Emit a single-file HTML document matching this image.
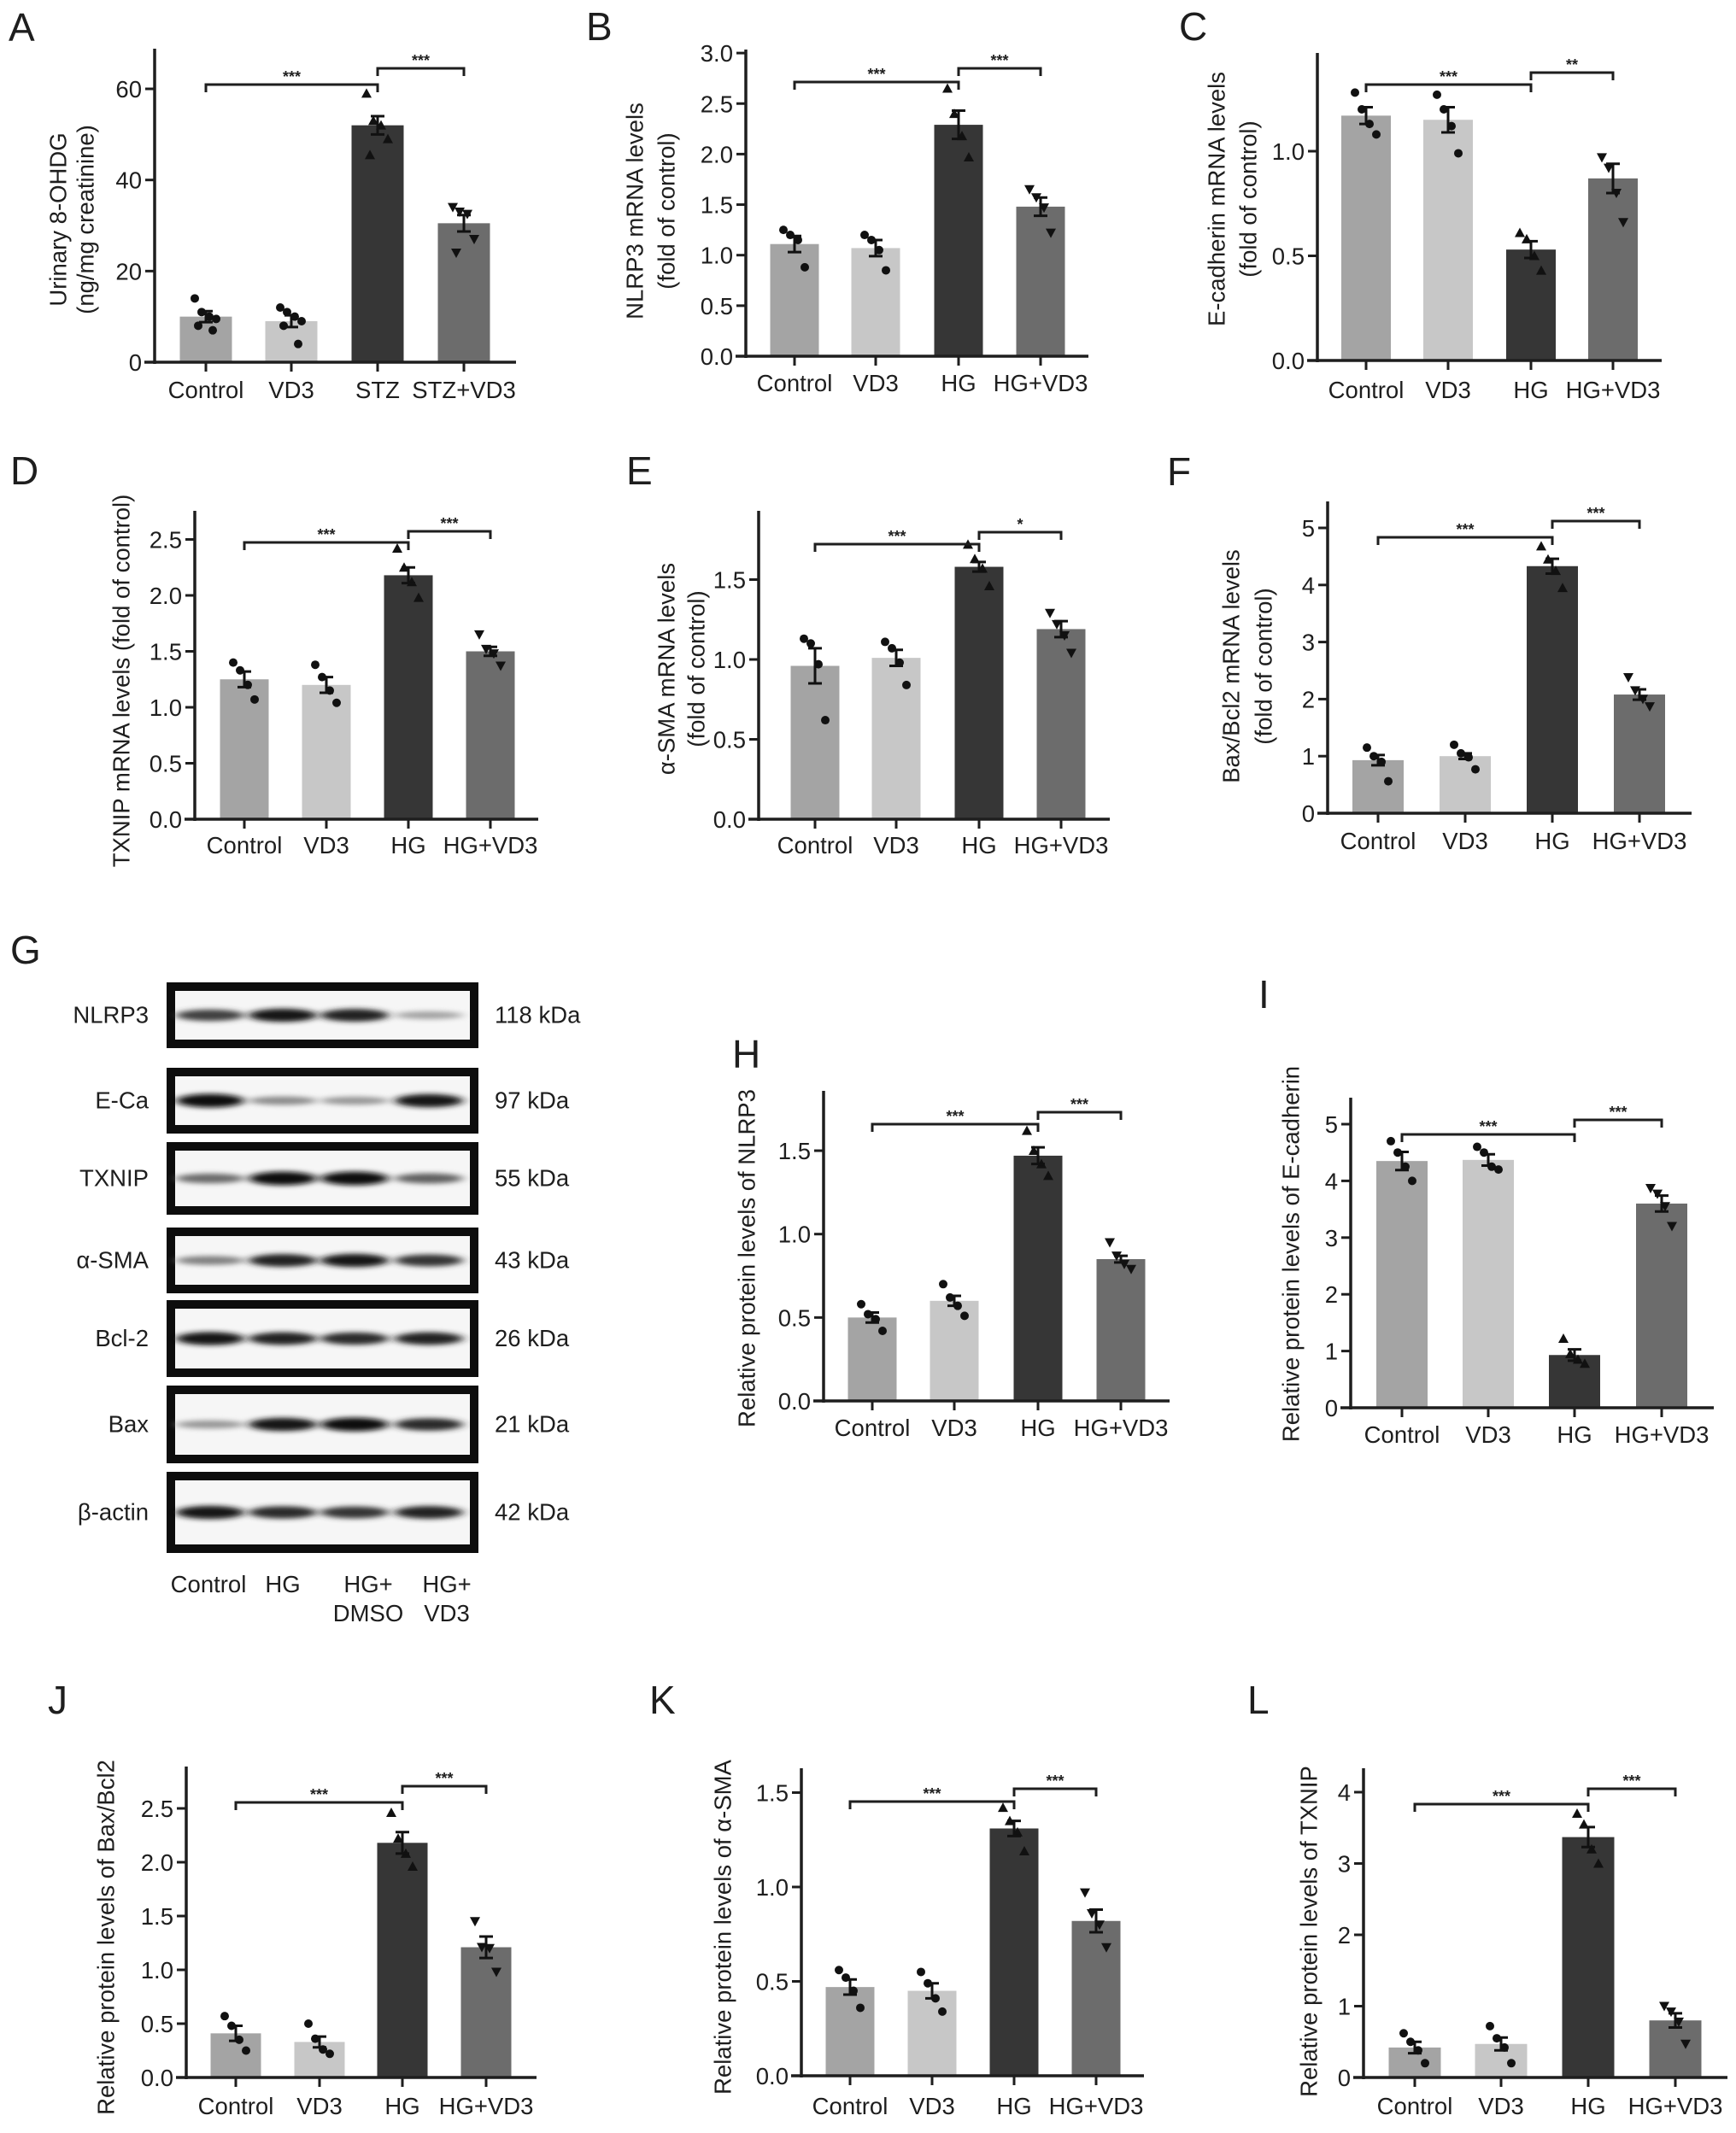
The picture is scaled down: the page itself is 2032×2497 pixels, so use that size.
<!DOCTYPE html>
<html><head><meta charset="utf-8">
<style>
html,body{margin:0;padding:0;background:#fff;}
svg{display:block;font-family:"Liberation Sans",Arial,sans-serif;}
</style></head>
<body>
<svg id="fig" xmlns="http://www.w3.org/2000/svg" width="2032" height="2497" viewBox="0 0 2032 2497">
  <defs>
    <filter id="blur" x="-30%" y="-100%" width="160%" height="300%"><feGaussianBlur stdDeviation="6 3"/></filter>
  </defs>
</svg>
<script>
// ---- data ----
const groupsMRNA = ["Control","VD3","HG","HG+VD3"];
const groupsA = ["Control","VD3","STZ","STZ+VD3"];

const valuesA = [10, 9, 52, 30.5];
const errA = [1.2, 1.3, 2.0, 1.8];
const pointsA = [[14,11,10,9.5,8,7],[12,11,10,9,8,4],[59,53,52,49,45.5],[34,33,32.5,27,24]];
const ticksA = [0,20,40,60];
const tickLabelsA = ["0","20","40","60"];

const valuesB = [1.11, 1.07, 2.29, 1.48];
const errB = [0.08, 0.08, 0.14, 0.09];
const pointsB = [[1.25,1.2,1.15,0.88],[1.2,1.15,1.05,0.85],[2.65,2.4,2.18,1.97],[1.65,1.57,1.47,1.22]];
const ticksB = [0,0.5,1,1.5,2,2.5,3];
const tickLabelsB = ["0.0","0.5","1.0","1.5","2.0","2.5","3.0"];

const valuesC = [1.17, 1.15, 0.53, 0.87];
const errC = [0.04, 0.06, 0.04, 0.07];
const pointsC = [[1.28,1.2,1.13,1.08],[1.27,1.2,1.12,0.99],[0.61,0.58,0.5,0.43],[0.97,0.92,0.8,0.66]];
const ticksC = [0,0.5,1];
const tickLabelsC = ["0.0","0.5","1.0"];

const valuesD = [1.25, 1.2, 2.18, 1.5];
const errD = [0.07, 0.07, 0.07, 0.04];
const pointsD = [[1.4,1.33,1.2,1.07],[1.38,1.27,1.15,1.04],[2.42,2.25,2.12,1.98],[1.65,1.52,1.48,1.37]];
const ticksD = [0,0.5,1,1.5,2,2.5];
const tickLabelsD = ["0.0","0.5","1.0","1.5","2.0","2.5"];

const valuesE = [0.96, 1.01, 1.58, 1.19];
const errE = [0.11, 0.05, 0.03, 0.05];
const pointsE = [[1.13,1.1,0.97,0.62],[1.11,1.07,0.98,0.84],[1.72,1.63,1.57,1.46],[1.29,1.22,1.15,1.04]];
const ticksE = [0,0.5,1,1.5];
const tickLabelsE = ["0.0","0.5","1.0","1.5"];

const valuesF = [0.93, 1.0, 4.33, 2.08];
const errF = [0.09, 0.05, 0.13, 0.09];
const pointsF = [[1.15,1.0,0.9,0.56],[1.2,1.05,0.98,0.77],[4.68,4.45,4.25,3.95],[2.38,2.15,2.0,1.87]];
const ticksF = [0,1,2,3,4,5];
const tickLabelsF = ["0","1","2","3","4","5"];

const valuesH = [0.5, 0.6, 1.47, 0.85];
const errH = [0.03, 0.03, 0.05, 0.02];
const pointsH = [[0.58,0.52,0.49,0.42],[0.7,0.62,0.57,0.51],[1.62,1.5,1.42,1.35],[0.95,0.87,0.82,0.79]];
const ticksH = [0,0.5,1,1.5];
const tickLabelsH = ["0.0","0.5","1.0","1.5"];

const valuesI = [4.35, 4.37, 0.93, 3.6];
const errI = [0.16, 0.1, 0.1, 0.14];
const pointsI = [[4.7,4.5,4.25,4.0],[4.6,4.5,4.25,4.2],[1.22,0.95,0.85,0.78],[3.87,3.77,3.55,3.2]];
const ticksI = [0,1,2,3,4,5];
const tickLabelsI = ["0","1","2","3","4","5"];

const valuesJ = [0.41, 0.33, 2.18, 1.21];
const errJ = [0.07, 0.05, 0.1, 0.1];
const pointsJ = [[0.57,0.48,0.35,0.25],[0.5,0.36,0.26,0.22],[2.46,2.22,2.08,1.96],[1.45,1.21,1.2,0.98]];
const ticksJ = [0,0.5,1,1.5,2,2.5];
const tickLabelsJ = ["0.0","0.5","1.0","1.5","2.0","2.5"];

const valuesK = [0.47, 0.45, 1.31, 0.82];
const errK = [0.04, 0.04, 0.04, 0.06];
const pointsK = [[0.56,0.52,0.45,0.36],[0.55,0.49,0.41,0.34],[1.42,1.35,1.29,1.19],[0.97,0.86,0.8,0.68]];
const ticksK = [0,0.5,1,1.5];
const tickLabelsK = ["0.0","0.5","1.0","1.5"];

const valuesL = [0.42, 0.47, 3.37, 0.8];
const errL = [0.08, 0.09, 0.14, 0.1];
const pointsL = [[0.62,0.5,0.38,0.2],[0.72,0.55,0.42,0.2],[3.7,3.55,3.2,3.0],[1.0,0.92,0.78,0.47]];
const ticksL = [0,1,2,3,4];
const tickLabelsL = ["0","1","2","3","4"];

// western blot band intensities per lane (0..1)
const blotProteins = ["NLRP3","E-Ca","TXNIP","\u03b1-SMA","Bcl-2","Bax","\u03b2-actin"];
const blotSizes = ["118 kDa","97 kDa","55 kDa","43 kDa","26 kDa","21 kDa","42 kDa"];
const blotLanes = ["Control","HG","HG+ DMSO","HG+ VD3"];
const blotIntensity = [
  [0.75,0.95,0.9,0.3],
  [1.0,0.4,0.35,0.95],
  [0.55,1.0,1.0,0.6],
  [0.45,0.9,0.95,0.8],
  [0.95,0.9,0.85,0.9],
  [0.35,0.95,1.0,0.85],
  [0.95,0.85,0.8,0.9]
];

// ---- helpers ----
const svg = document.getElementById('fig');
const NS = "http://www.w3.org/2000/svg";
function mk(tag, attrs, parent){
  const e = document.createElementNS(NS, tag);
  for (const k in attrs) e.setAttribute(k, attrs[k]);
  (parent||svg).appendChild(e);
  return e;
}
const COLORS = ["#a4a4a4","#c7c7c7","#363636","#6c6c6c"];
const INK = "#1e1e1e";
const FS = 27.5;

function drawChart(c){
  const g = mk('g', {});
  
  
  const yS = v => c.zero - v * c.unit;
  const xS = i => c.centers[i];

  const letter = mk('text', {x:c.lx, y:c.ly, 'font-size':46, fill:INK}, g);
  letter.textContent = c.id;
  
  

  c.values.forEach((v,i)=>{
    const b = mk('rect', {x:xS(i)-c.bw/2, y:yS(v), width:c.bw, height:c.zero-yS(v), fill:COLORS[i]}, g);
    
    
  });
  const jit = [-13,-5,4,12,-9,8];
  c.points.forEach((arr,i)=>{
    arr.forEach((p,k)=>{
      const x = xS(i) + jit[k % jit.length], y = yS(p);
      let m;
      if (i < 2) m = mk('circle', {cx:x, cy:y, r:5, fill:'#111'}, g);
      else if (i === 2) m = mk('path', {d:`M${x},${y-6} L${x+6},${y+5} L${x-6},${y+5}Z`, fill:'#111'}, g);
      else m = mk('path', {d:`M${x-6},${y-5} L${x+6},${y-5} L${x},${y+6}Z`, fill:'#111'}, g);
      
      
    });
  });
  c.values.forEach((v,i)=>{
    const x = xS(i), y1 = yS(v - c.err[i]), y2 = yS(v + c.err[i]);
    const e = mk('path', {d:`M${x},${y1} V${y2} M${x-8},${y1} H${x+8} M${x-8},${y2} H${x+8}`, stroke:'#111', 'stroke-width':3, fill:'none'}, g);
    
    
  });
  const ya = mk('line', {x1:c.ax, y1:c.top, x2:c.ax, y2:c.zero+2, stroke:INK, 'stroke-width':3.5}, g);
  
  
  const xa = mk('line', {x1:c.ax-12, y1:c.zero, x2:c.right, y2:c.zero, stroke:INK, 'stroke-width':3.5}, g);
  
  
  c.ticks.forEach((t,k)=>{
    const y = yS(t);
    const tk = mk('line', {x1:c.ax-11, y1:y, x2:c.ax, y2:y, stroke:INK, 'stroke-width':3}, g);
    
    
    const tl = mk('text', {x:c.ax-15, y:y+10, 'font-size':FS, 'text-anchor':'end', fill:INK}, g);
    tl.textContent = c.tickLabels[k];
    
    
  });
  c.groups.forEach((gname,i)=>{
    const x = xS(i);
    const tk = mk('line', {x1:x, y1:c.zero, x2:x, y2:c.zero+11, stroke:INK, 'stroke-width':3}, g);
    
    
    const tl = mk('text', {x:x, y:c.xly, 'font-size':FS, 'text-anchor':'middle', fill:INK}, g);
    tl.textContent = gname;
    
    
  });
  c.ytitle.forEach((line,k)=>{
    const x = c.ytx[k];
    const t = mk('text', {x:x, y:c.yty, 'font-size':FS, 'text-anchor':'middle', fill:INK, transform:`rotate(-90 ${x} ${c.yty})`, 'dominant-baseline':'central'}, g);
    t.textContent = line;
    
    
  });
  c.brackets.forEach(br=>{
    const [i,j,y,txt] = br;
    const x1 = xS(i), x2 = xS(j);
    const p = mk('path', {d:`M${x1},${y+9} V${y} H${x2} V${y+9}`, stroke:INK, 'stroke-width':3, fill:'none'}, g);
    
    
    const s = mk('text', {x:(x1+x2)/2, y:y-3, 'font-size':18, 'font-weight':'bold', 'text-anchor':'middle', fill:INK}, g);
    s.textContent = txt;
    
    
  });
}

const charts = [
 {id:'A', groups:groupsA, values:valuesA, err:errA, points:pointsA, ticks:ticksA, tickLabels:tickLabelsA,
  ax:181, zero:424, unit:5.333, top:57, right:604, centers:[241,341,442,543], bw:61, xly:466,
  ytitle:['Urinary 8-OHDG','(ng/mg creatinine)'], ytx:[68,100], yty:257, lx:10, ly:48,
  brackets:[[0,2,99,'***'],[2,3,80,'***']]},
 {id:'B', groups:groupsMRNA, values:valuesB, err:errB, points:pointsB, ticks:ticksB, tickLabels:tickLabelsB,
  ax:873, zero:417, unit:118.3, top:58, right:1274, centers:[930,1025,1122,1218], bw:57, xly:458,
  ytitle:['NLRP3 mRNA levels','(fold of control)'], ytx:[743,780], yty:247, lx:686, ly:47,
  brackets:[[0,2,96,'***'],[2,3,80,'***']]},
 {id:'C', groups:groupsMRNA, values:valuesC, err:errC, points:pointsC, ticks:ticksC, tickLabels:tickLabelsC,
  ax:1542, zero:422, unit:245, top:62, right:1945, centers:[1599,1695,1792,1888], bw:58, xly:466,
  ytitle:['E-cadherin mRNA levels','(fold of control)'], ytx:[1424,1461], yty:233, lx:1380, ly:47,
  brackets:[[0,2,99,'***'],[2,3,85,'**']]},
 {id:'D', groups:groupsMRNA, values:valuesD, err:errD, points:pointsD, ticks:ticksD, tickLabels:tickLabelsD,
  ax:228, zero:959, unit:131, top:598, right:630, centers:[286,382,478,574], bw:57, xly:999,
  ytitle:['TXNIP mRNA levels (fold of control)'], ytx:[142], yty:797, lx:12, ly:567,
  brackets:[[0,2,635,'***'],[2,3,622,'***']]},
 {id:'E', groups:groupsMRNA, values:valuesE, err:errE, points:pointsE, ticks:ticksE, tickLabels:tickLabelsE,
  ax:888, zero:959, unit:187, top:598, right:1299, centers:[954,1049,1146,1242], bw:57, xly:999,
  ytitle:['\u03b1-SMA mRNA levels','(fold of control)'], ytx:[780,815], yty:783, lx:733, ly:567,
  brackets:[[0,2,637,'***'],[2,3,623,'*']]},
 {id:'F', groups:groupsMRNA, values:valuesF, err:errF, points:pointsF, ticks:ticksF, tickLabels:tickLabelsF,
  ax:1554, zero:952, unit:66.8, top:587, right:1980, centers:[1613,1715,1817,1919], bw:60, xly:994,
  ytitle:['Bax/Bcl2 mRNA levels','(fold of control)'], ytx:[1441,1479], yty:780, lx:1366, ly:568,
  brackets:[[0,2,629,'***'],[2,3,610,'***']]},
 {id:'H', groups:groupsMRNA, values:valuesH, err:errH, points:pointsH, ticks:ticksH, tickLabels:tickLabelsH,
  ax:964, zero:1640, unit:195.3, top:1277, right:1369, centers:[1021,1117,1215,1312], bw:57, xly:1681,
  ytitle:['Relative protein levels of NLRP3'], ytx:[874], yty:1473, lx:857, ly:1250,
  brackets:[[0,2,1316,'***'],[2,3,1302,'***']]},
 {id:'I', groups:groupsMRNA, values:valuesI, err:errI, points:pointsI, ticks:ticksI, tickLabels:tickLabelsI,
  ax:1581, zero:1648, unit:66.4, top:1285, right:2006, centers:[1641,1742,1843,1945], bw:60, xly:1689,
  ytitle:['Relative protein levels of E-cadherin'], ytx:[1511], yty:1468, lx:1473, ly:1180,
  brackets:[[0,2,1328,'***'],[2,3,1311,'***']]},
 {id:'J', groups:groupsMRNA, values:valuesJ, err:errJ, points:pointsJ, ticks:ticksJ, tickLabels:tickLabelsJ,
  ax:218, zero:2432, unit:126, top:2068, right:628, centers:[276,374,471,569], bw:59, xly:2475,
  ytitle:['Relative protein levels of Bax/Bcl2'], ytx:[124], yty:2268, lx:56, ly:2006,
  brackets:[[0,2,2110,'***'],[2,3,2091,'***']]},
 {id:'K', groups:groupsMRNA, values:valuesK, err:errK, points:pointsK, ticks:ticksK, tickLabels:tickLabelsK,
  ax:938, zero:2430, unit:221, top:2070, right:1339, centers:[995,1091,1187,1283], bw:57, xly:2475,
  ytitle:['Relative protein levels of \u03b1-SMA'], ytx:[846], yty:2256, lx:760, ly:2006,
  brackets:[[0,2,2109,'***'],[2,3,2094,'***']]},
 {id:'L', groups:groupsMRNA, values:valuesL, err:errL, points:pointsL, ticks:ticksL, tickLabels:tickLabelsL,
  ax:1596, zero:2432, unit:83.5, top:2070, right:2022, centers:[1656,1757,1859,1961], bw:61, xly:2475,
  ytitle:['Relative protein levels of TXNIP'], ytx:[1532], yty:2261, lx:1460, ly:2006,
  brackets:[[0,2,2112,'***'],[2,3,2094,'***']]}
];
charts.forEach(drawChart);

// ---- western blot (panel G) ----
(function(){
  const g = mk('g', {});
  
  
  const lt = mk('text', {x:12, y:1128, 'font-size':46, fill:INK}, g);
  lt.textContent = 'G';
  
  
  const rows = [[1150,1227],[1250,1327],[1337,1422],[1437,1514],[1522,1612],[1622,1713],[1723,1818]];
  const laneX = [246,331,415,502];
  const bx1 = 195, bx2 = 560;
  rows.forEach((r,k)=>{
    const box = mk('rect', {x:bx1+5, y:r[0]+5, width:bx2-bx1-10, height:r[1]-r[0]-10, fill:'#f6f6f6', stroke:'#0d0d0d', 'stroke-width':10}, g);
    
    
    const cy = (r[0]+r[1])/2;
    blotIntensity[k].forEach((v,i)=>{
      const shade = Math.round(225 - 215*v);
      const band = mk('ellipse', {cx:laneX[i], cy:cy, rx:40, ry:3+5*v, fill:`rgb(${shade},${shade},${shade})`, filter:'url(#blur)'}, g);
      
      
    });
    const pl = mk('text', {x:174, y:cy+9, 'font-size':FS, 'text-anchor':'end', fill:INK}, g);
    pl.textContent = blotProteins[k];
    
    
    const sl = mk('text', {x:579, y:cy+9, 'font-size':FS, fill:INK}, g);
    sl.textContent = blotSizes[k];
    
    
  });
  const labX = [244,331,431,523];
  blotLanes.forEach((name,i)=>{
    const parts = name.split(' ');
    parts.forEach((p,k)=>{
      const t = mk('text', {x:labX[i], y:1864 + k*34, 'font-size':FS, 'text-anchor':'middle', fill:INK}, g);
      t.textContent = p;
      
      
    });
  });
})();
</script>
</body></html>
